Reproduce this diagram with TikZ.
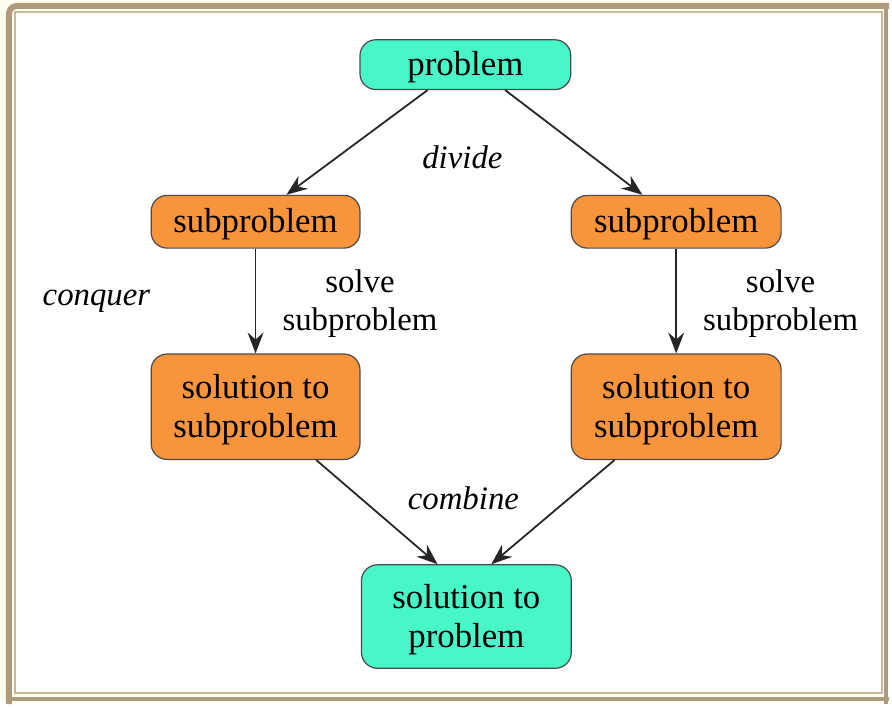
\documentclass[tikz,border=0pt]{standalone}
\usepackage{fontspec}
\setmainfont{Liberation Serif}
\usetikzlibrary{arrows.meta}
\definecolor{cream}{HTML}{FFFCF0}
\definecolor{frametan}{HTML}{B09A7C}
\definecolor{framelight}{HTML}{C9B89E}
\definecolor{aqua}{HTML}{48F7C8}
\definecolor{orangebox}{HTML}{F8943C}
\definecolor{edgegray}{HTML}{4A4A4A}
\tikzset{
  box/.style={draw=edgegray, line width=1.2pt, rounded corners=16pt,
    align=center, inner sep=0pt, text depth=2pt,
    font=\fontsize{35}{39}\selectfont},
  goalbox/.style={box, fill=aqua},
  subbox/.style={box, fill=orangebox},
  link/.style={draw=black!85, line width=1.8pt,
    -{Stealth[length=21pt, width=16pt, inset=7pt]}},
  tag/.style={font=\fontsize{33}{37}\selectfont\itshape},
  note/.style={align=center, font=\fontsize{33}{38}\selectfont}
}
\begin{document}
\begin{tikzpicture}[x=1pt, y=-1pt]
  % page and frame
  \fill[cream] (0,0) rectangle (892,704);
  \fill[white] (15,12) rectangle (887,697);
  \draw[framelight, line width=1.8pt] (15,12) rectangle (887,697);
  \draw[frametan, line width=6pt, rounded corners=8pt]
    (894,6) -- (9,6) -- (9,708);
  \draw[frametan, line width=4pt] (891,6) -- (891,708);
  \draw[frametan, line width=4pt] (9,703) -- (894,703);
  \useasboundingbox (0,0) rectangle (892,704);

  % nodes
  \node[goalbox, minimum width=212pt, minimum height=50pt] (prob) at (468,65) {problem};
  \node[subbox, minimum width=210pt, minimum height=53pt] (subL) at (257,223) {subproblem};
  \node[subbox, minimum width=211pt, minimum height=53pt] (subR) at (680,223) {subproblem};
  \node[subbox, minimum width=210pt, minimum height=106pt] (solL) at (257,409) {solution to\\subproblem};
  \node[subbox, minimum width=211pt, minimum height=106pt] (solR) at (680,409) {solution to\\subproblem};
  \node[goalbox, minimum width=211pt, minimum height=104pt] (sol) at (469,620) {solution to\\problem};

  % labels
  \node[tag] (divide) at (465,158) {divide};
  \node[tag] (conquer) at (97,303) {conquer};
  \node[tag] (combine) at (466,501) {combine};
  \node[note] (solveL) at (362,305) {solve\\subproblem};
  \node[note] (solveR) at (785,305) {solve\\subproblem};

  % connectors
  \draw[link] ([xshift=-38pt]prob.south) -- ([xshift=31pt]subL.north);
  \draw[link] ([xshift=40pt]prob.south) -- ([xshift=-34pt]subR.north);
  \draw[link] (subL.south) -- (solL.north);
  \draw[link] (subR.south) -- (solR.north);
  \draw[link] ([xshift=61pt]solL.south) -- ([xshift=-29pt]sol.north);
  \draw[link] ([xshift=-62pt]solR.south) -- ([xshift=25pt]sol.north);
\end{tikzpicture}
\end{document}
